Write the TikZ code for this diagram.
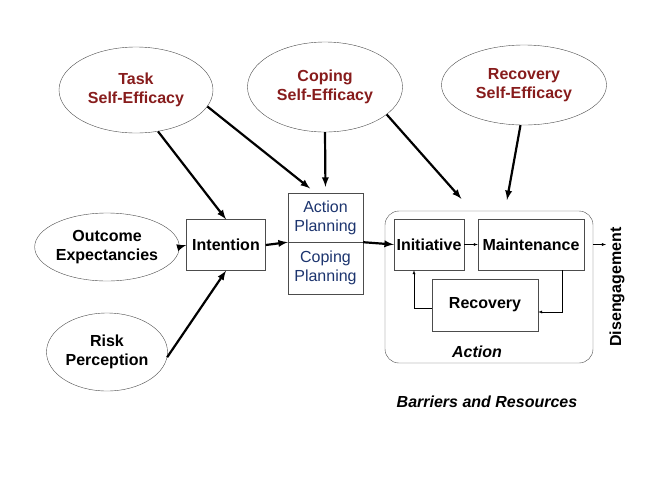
\documentclass[tikz,border=0pt]{standalone}
\usepackage{fontspec}
\setmainfont{Liberation Sans}
\usetikzlibrary{arrows,shapes.geometric}
\definecolor{efficred}{RGB}{135,28,28}
\definecolor{planblue}{RGB}{28,52,110}

\begin{document}
\begin{tikzpicture}[x=1pt,y=-1pt]
\tikzset{every node/.style={font=\fontsize{16}{19}\selectfont\bfseries,align=center}}
\tikzset{belief/.style={ellipse,draw=black!70,thin,inner sep=0pt}}
\tikzset{selfeff/.style={belief,text=efficred}}
\tikzset{stagebox/.style={draw=black!70,thin,inner sep=0pt}}
\tikzset{planbox/.style={stagebox,text=planblue,font=\fontsize{16}{19}\selectfont,minimum width=75pt}}
\tikzset{strong/.style={-latex,line width=2.2pt}}
\tikzset{weak/.style={-latex,thin}}

\useasboundingbox (0,0) rectangle (655,480);

\node[selfeff,minimum width=154pt,minimum height=86pt] (task) at (136,90) {Task\\Self-Efficacy};
\node[selfeff,minimum width=155pt,minimum height=90pt] (coping) at (325,87) {Coping\\Self-Efficacy};
\node[selfeff,minimum width=165pt,minimum height=80pt] (recov) at (524,85) {Recovery\\Self-Efficacy};

\node[belief,minimum width=121pt,minimum height=68pt] (outcome) at (107,247) {Outcome\\Expectancies};
\node[belief,minimum width=121pt,minimum height=78pt] (risk) at (107,352) {Risk\\Perception};

\node[stagebox,minimum width=79pt,minimum height=51pt] (intention) at (226,245) {Intention};
\node[planbox,minimum height=49pt] (actplan) at (325.5,217.5) {Action\\Planning};
\node[planbox,minimum height=52pt] (copplan) at (325.5,268) {Coping\\Planning};

% action phase
\node[stagebox,rounded corners=14pt,minimum width=208pt,minimum height=152pt] (action) at (489,287) {};
\node[stagebox,minimum width=70pt,minimum height=51pt] (initiative) at (429,244.5) {Initiative};
\node[stagebox,minimum width=106pt,minimum height=51pt] (maint) at (531,244.5) {Maintenance};
\node[stagebox,minimum width=106pt,minimum height=52pt] (recovery) at (485,305) {Recovery};
\node[font=\fontsize{16}{19}\selectfont\bfseries\itshape] (actionlbl) at (477,352) {Action};
\node[rotate=90] (diseng) at (617,287) {Disengagement};
\node[font=\fontsize{16}{19}\selectfont\bfseries\itshape] (barriers) at (487,402) {Barriers and Resources};

\draw[strong] (task.-62) -- (intention.north);
\draw[strong,shorten >=7pt] (task.-13) -- ([xshift=-10pt]actplan.north);
\draw[strong,shorten >=6pt] (coping.south) -- (actplan.north);
\draw[strong,shorten >=16pt] (coping.-24) -- ([xshift=-17pt]action.north);
\draw[strong,shorten >=11pt] (recov.-95) -- ([xshift=16pt]action.north);
\draw[strong] (outcome.east) -- (intention.west);
\draw[strong] (risk.-5) -- (intention.south);
\draw[strong] (intention.east) -- (actplan.south west);
\draw[strong] (actplan.south east) -- (initiative.west);

\draw[weak] (initiative.east) -- (maint.west);
\draw[weak] ([xshift=31pt]maint.south) |- ([yshift=-7pt]recovery.east);
\draw[weak] ([yshift=-3pt]recovery.west) -| ([xshift=-15pt]initiative.south);
\draw[weak] (action.east |- maint.east) -- (diseng.north |- maint.east);

\end{tikzpicture}
\end{document}
